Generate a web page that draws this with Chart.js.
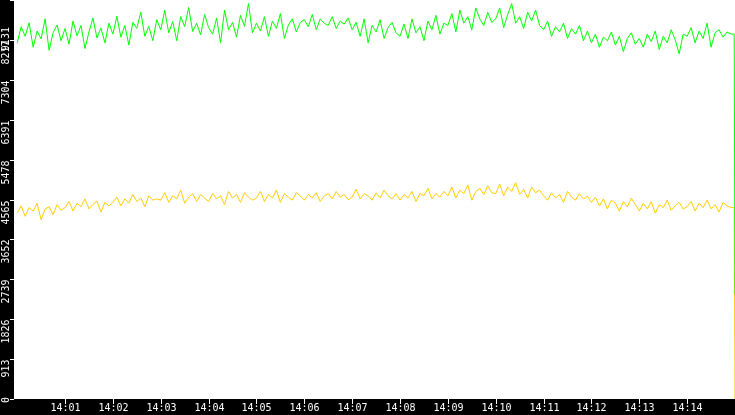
<!DOCTYPE html>
<html><head><meta charset="utf-8">
<script src="https://cdn.jsdelivr.net/npm/chart.js@4"></script>
<style>html,body{margin:0;padding:0;background:#fff}#w{width:735px;height:415px}</style>
</head><body><div id="w"><canvas id="c"></canvas></div>
<script>
const yTicks=[0,913,1826,2739,3652,4565,5478,6391,7304,8217,9131];
const xTickSecs=[60,120,180,240,300,360,420,480,540,600,660,720,780,840];
const xTickLabels=['14:01','14:02','14:03','14:04','14:05','14:06','14:07','14:08','14:09','14:10','14:11','14:12','14:13','14:14'];
const stepSec=5;
const greenVals=[
8150,8520,8300,8610,8050,8420,8240,8700,7980,8380,8560,8200,
8480,8120,8650,8310,8550,8020,8400,8720,8260,8490,8150,8600,
8350,8760,8280,8550,8100,8620,8480,8850,8300,8530,8200,8680,
8450,8900,8380,8640,8200,8750,8520,8960,8410,8600,8330,8800,
8500,8350,8720,8150,8900,8450,8620,8280,8780,8530,9050,8380,
8600,8420,8750,8300,8650,8480,8820,8250,8560,8700,8400,8620,
8680,8520,8800,8450,8700,8600,8550,8750,8480,8650,8580,8720,
8450,8620,8300,8700,8150,8550,8400,8680,8250,8500,8620,8380,
8300,8580,8250,8700,8380,8520,8200,8650,8450,8780,8350,8600,
8550,8820,8400,8900,8600,8750,8450,8950,8700,8550,8850,8620,
8700,8950,8500,8800,9050,8600,8750,8480,8850,8650,8900,8550,
8450,8650,8300,8520,8400,8600,8250,8480,8350,8550,8200,8420,
8150,8350,8050,8280,8200,8400,8100,8300,7950,8250,8380,8120,
8250,8050,8350,8180,8420,8000,8300,8150,8450,8220,7900,8350,
8300,8500,8150,8420,8250,8600,8050,8380,8450,8280,8400,8350];
const greenLast=2400;
const yellowVals=[
4250,4420,4180,4380,4300,4480,4100,4350,4400,4220,4450,4320,
4380,4520,4300,4480,4400,4580,4350,4450,4530,4280,4500,4420,
4500,4620,4420,4580,4480,4680,4520,4600,4400,4650,4550,4580,
4550,4720,4500,4650,4580,4780,4480,4620,4700,4520,4680,4600,
4520,4700,4580,4650,4450,4750,4600,4680,4500,4720,4620,4550,
4600,4750,4520,4680,4600,4780,4500,4700,4620,4550,4720,4650,
4550,4680,4600,4720,4520,4650,4700,4580,4750,4620,4680,4560,
4620,4800,4580,4700,4650,4550,4720,4600,4780,4650,4580,4700,
4550,4680,4600,4750,4520,4700,4650,4820,4580,4700,4620,4750,
4650,4850,4600,4780,4700,4900,4550,4750,4820,4680,4880,4720,
4700,4920,4650,4850,4750,4950,4680,4800,4600,4850,4720,4780,
4650,4550,4720,4600,4680,4500,4750,4620,4550,4700,4580,4640,
4500,4620,4420,4580,4350,4550,4480,4300,4520,4400,4600,4450,
4300,4480,4350,4520,4250,4450,4380,4550,4320,4420,4500,4350,
4400,4520,4300,4480,4380,4550,4350,4450,4280,4500,4420,4380];
const yellowLast=0;
const endSec=900;

function pts(v,last){const a=v.map((y,i)=>({x:i*stepSec,y}));a.push({x:endSec-1,y:v[v.length-1]});a.push({x:endSec,y:last});return a;}

const frame={id:'frame',
 beforeDraw(ch){const c=ch.ctx,a=ch.chartArea;c.save();c.fillStyle='#000';
  c.fillRect(0,0,a.left,ch.height);c.fillRect(0,a.bottom,ch.width,ch.height-a.bottom);c.restore();},
 afterDraw(ch){const c=ch.ctx,a=ch.chartArea,ys=ch.scales.y,xs=ch.scales.x;c.save();
  c.strokeStyle='#fff';c.fillStyle='#fff';c.lineWidth=1;c.font='10px "DejaVu Sans Mono"';
  yTicks.forEach(v=>{const p=Math.round(ys.getPixelForValue(v))+0.5;
   c.beginPath();c.moveTo(a.left-4,p);c.lineTo(a.left,p);c.stroke();
   const w=c.measureText(String(v)).width;let cy=Math.max(p,w+3);cy=Math.min(cy,a.bottom-2);
   c.save();c.translate(a.left-3,cy);c.rotate(-Math.PI/2);c.textAlign='right';c.textBaseline='bottom';
   c.fillText(String(v),0,0);c.restore();});
  xTickSecs.forEach((s,i)=>{const p=Math.round(xs.getPixelForValue(s))+0.5;
   c.beginPath();c.moveTo(p,a.bottom);c.lineTo(p,a.bottom+5);c.stroke();
   c.textAlign='center';c.textBaseline='top';c.fillText(xTickLabels[i],p,a.bottom+4);});
  c.restore();}};

new Chart(document.getElementById('c'),{type:'line',
 data:{datasets:[
  {data:pts(greenVals,greenLast),borderColor:'#00ff00',borderWidth:1,pointRadius:0,tension:0},
  {data:pts(yellowVals,yellowLast),borderColor:'#ffcc00',borderWidth:1,pointRadius:0,tension:0}]},
 options:{responsive:true,maintainAspectRatio:false,animation:false,
  layout:{padding:0},
  plugins:{legend:{display:false},tooltip:{enabled:false}},
  scales:{
   x:{type:'linear',min:-4,max:endSec,grid:{display:false},border:{display:false},ticks:{display:false},afterFit(s){s.height=16;}},
   y:{min:0,max:9131,grid:{display:false},border:{display:false},ticks:{display:false},afterFit(s){s.width=14;}}}},
 plugins:[frame]});
</script></body></html>
